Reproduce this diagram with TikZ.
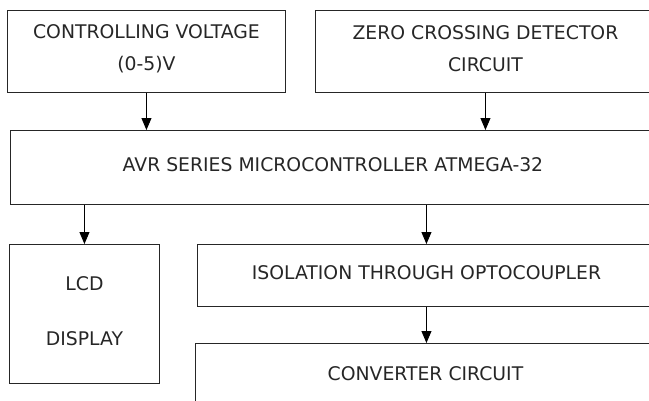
\documentclass[tikz,border=0pt]{standalone}
\usepackage{fontspec}
\setmainfont{DejaVu Sans}
\usetikzlibrary{arrows.meta}
\begin{document}
\begin{tikzpicture}[x=1pt,y=1pt,
  box/.style={draw=black!85, line width=0.9pt, rectangle, inner sep=0pt, anchor=north west, align=center, text=black!85, text depth=6pt, font=\fontsize{18.8}{33}\selectfont},
  arr/.style={draw=black, line width=0.9pt, -{Triangle[length=12pt,width=10pt]}}]
\useasboundingbox (0,0) rectangle (649,-400);
\clip (0,0) rectangle (649,-400);
\node[box, minimum width=278, minimum height=82, text depth=7pt] (cv) at (7,-10) {CONTROLLING VOLTAGE\\[-1pt](0-5)V};
\node[box, minimum width=340, minimum height=82] (zc) at (315,-10) {ZERO CROSSING DETECTOR\\[-1pt]CIRCUIT};
\node[box, minimum width=645, minimum height=74] (avr) at (10,-130) {AVR SERIES MICROCONTROLLER ATMEGA-32};
\node[box, minimum width=150, minimum height=139, font=\fontsize{18.8}{55}\selectfont] (lcd) at (9,-244) {LCD\\DISPLAY};
\node[box, minimum width=458, minimum height=62] (iso) at (197,-244) {ISOLATION THROUGH OPTOCOUPLER};
\node[box, minimum width=460, minimum height=67] (conv) at (195,-343) {CONVERTER CIRCUIT};
\draw[arr] (cv.south) -- (cv.south |- avr.north);
\draw[arr] (zc.south) -- (zc.south |- avr.north);
\draw[arr] (lcd.north |- avr.south) -- (lcd.north);
\draw[arr] (iso.north |- avr.south) -- (iso.north);
\draw[arr] (iso.south) -- (iso.south |- conv.north);
\end{tikzpicture}
\end{document}
